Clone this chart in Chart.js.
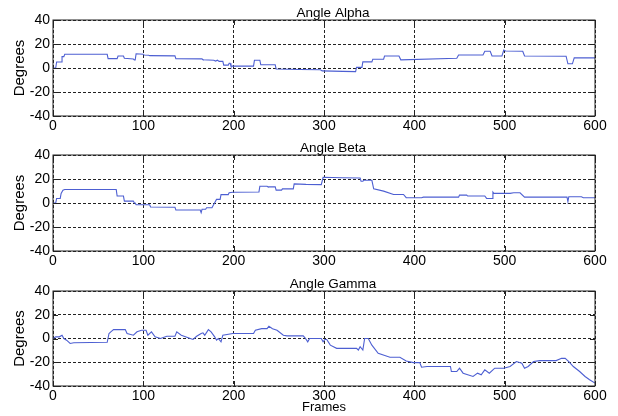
<!DOCTYPE html>
<html>
<head>
<meta charset="utf-8">
<script src="https://cdn.jsdelivr.net/npm/chart.js@4.4.1/dist/chart.umd.min.js"></script>
<style>
  body { margin: 0; background: #fff; }
  #wrap { position: relative; width: 618px; height: 416px; overflow: hidden; background: #fff; }
  canvas { position: absolute; left: 0; }
</style>
</head>
<body>
<div id="wrap">
  <canvas id="alpha" width="618" height="136" style="top:0px"></canvas>
  <canvas id="beta" width="618" height="136" style="top:135px"></canvas>
  <canvas id="gamma" width="618" height="145" style="top:271px"></canvas>
</div>
<script>
// data (frame, degrees)
const alphaFrames = [0, 3, 4, 10, 10, 12, 13, 60, 61, 71, 72, 78, 79, 89, 90, 91, 92, 100, 101, 106, 107, 135, 136, 165, 166, 178, 180, 182, 184, 188, 189, 194, 195, 196, 197, 222, 223, 229, 230, 246, 247, 260, 273, 296, 298, 321, 335, 336, 342, 343, 353, 354, 366, 367, 383, 385, 447, 449, 476, 478, 484, 486, 497, 499, 501, 520, 522, 568, 570, 575, 577, 600];
const alphaDeg = [0, 0, 5, 5, 9.5, 9.5, 11.4, 11.4, 7.8, 7.8, 10, 10, 8.1, 7.5, 6.8, 6.8, 11.9, 11.5, 10.8, 10.6, 10.3, 10.1, 7.8, 7.6, 6.8, 6.5, 5.8, 6.5, 5.5, 5.5, 2.4, 2.4, 4, 4, 1.6, 1.6, 6.5, 6.5, 2.7, 2.7, -0.8, -1.1, -1.2, -1.4, -2.4, -2.8, -3, 0.5, 0.5, 5.1, 5.1, 7.3, 7.3, 10, 10, 6.8, 8.1, 10.8, 10.8, 14, 14, 10, 10, 14.9, 14.2, 14, 10, 9.8, 3.5, 3.5, 8.4, 8.4];

const betaFrames = [0, 3, 4, 8, 9, 11, 13, 70, 71, 78, 79, 89, 90, 91, 92, 107, 108, 135, 136, 163, 164, 165, 169, 170, 176, 177, 179, 181, 185, 186, 194, 195, 199, 228, 229, 237, 238, 246, 247, 253, 254, 266, 267, 280, 297, 299, 320, 340, 341, 343, 344, 353, 355, 366, 377, 388, 391, 408, 410, 449, 450, 458, 459, 478, 480, 486, 487, 488, 506, 510, 517, 522, 569, 570, 571, 585, 587, 600];
const betaDeg = [0, 0, 3.8, 3.8, 8, 10.7, 11.2, 11.2, 5.8, 5.8, 1.6, 1.6, 0, 0, -1.5, -1.5, -3.3, -3.5, -5.8, -5.8, -8, -5.2, -5.2, -4, -4, -2.5, 0.3, 3, 3, 7, 7, 8.5, 9, 9.2, 14, 14, 13.4, 13.4, 10.7, 10.7, 11.8, 11.8, 15.9, 15.5, 15.3, 21.4, 21, 20.8, 18.1, 18.1, 18.9, 18.9, 11.8, 9.9, 7.1, 7.1, 4.4, 4.4, 4.9, 4.9, 6.6, 6.6, 5.8, 5.8, 3.8, 3.8, 9, 8, 8, 8.5, 8.5, 4.9, 4.9, 1.1, 5.2, 5.2, 4.4, 4.4];

const gammaFrames = [0, 3, 7, 10, 12, 15, 19, 23, 60, 62, 64, 67, 80, 82, 89, 93, 98, 103, 105, 109, 113, 119, 126, 135, 137, 142, 152, 155, 159, 164, 166, 168, 172, 175, 179, 181, 183, 186, 188, 199, 222, 224, 231, 237, 239, 243, 248, 255, 259, 277, 279, 282, 284, 297, 299, 301, 303, 307, 314, 336, 338, 340, 343, 345, 349, 353, 360, 373, 384, 391, 399, 406, 408, 414, 440, 441, 447, 450, 454, 465, 470, 474, 478, 483, 487, 489, 499, 506, 513, 519, 522, 526, 532, 539, 557, 563, 567, 571, 576, 583, 589, 594, 600];
const gammaDeg = [0, 1.4, 1.4, 2.8, 0, -1.4, -4.2, -3.6, -3.2, 4.2, 5.6, 7.5, 7.5, 4.2, 2.8, 5.6, 6.9, 6.9, 2.8, 5.6, 1.4, 0, 1.9, 1.9, 5.6, 2.8, 0, -0.8, 1.9, 4.2, 4.8, 2.8, 7.5, 5.6, 1.4, -1.4, 0, -2.8, 2.8, 4.2, 4.2, 6.9, 8.3, 8.3, 10.3, 8.3, 6.9, 2.8, 2.2, 2.2, 0.6, -2.8, 0, 0, -2.8, -0.8, -0.8, -5.6, -8.3, -8.3, -9.7, -6.9, -9.7, 0, 0, -5.6, -12.5, -15.8, -15.8, -18.9, -20.3, -20.3, -24.2, -23.6, -23.6, -27.8, -27.8, -25, -29.2, -32, -29.2, -30.5, -26.4, -29.2, -26.4, -25, -25, -23.6, -19.4, -20.8, -25, -23.6, -19.4, -18.6, -18.6, -16.7, -16.7, -19.4, -23.6, -27.8, -32, -34.7, -37.5];

const xTicks = [0, 100, 200, 300, 400, 500, 600];
const yTicks = [-40, -20, 0, 20, 40];

const FONT = '"Liberation Sans", Arial, sans-serif';
Chart.defaults.font.family = FONT;
Chart.defaults.font.size = 14;
Chart.defaults.color = '#000';

// matlab-like box, inward ticks and title
const axesBox = {
    id: 'axesBox',
    afterDraw(chart, args, opts) {
        const ctx = chart.ctx;
        const a = chart.chartArea;
        const xs = chart.scales.x, ys = chart.scales.y;
        ctx.save();
        ctx.strokeStyle = '#222';
        ctx.lineWidth = 1;
        ctx.strokeRect(a.left, a.top, a.right - a.left, a.bottom - a.top);
        ctx.beginPath();
        xTicks.forEach(v => {
            const px = Math.round(xs.getPixelForValue(v)) + 0.5;
            ctx.moveTo(px, a.bottom); ctx.lineTo(px, a.bottom - 5);
            ctx.moveTo(px, a.top); ctx.lineTo(px, a.top + 5);
        });
        yTicks.forEach(v => {
            const py = Math.round(ys.getPixelForValue(v)) + 0.5;
            ctx.moveTo(a.left, py); ctx.lineTo(a.left + 5, py);
            ctx.moveTo(a.right, py); ctx.lineTo(a.right - 5, py);
        });
        ctx.stroke();
        ctx.fillStyle = '#000';
        ctx.font = '13.5px ' + FONT;
        ctx.textAlign = 'center';
        ctx.textBaseline = 'alphabetic';
        ctx.fillText(opts.text, (a.left + a.right) / 2 + 9, a.top - 3.5);
        ctx.restore();
    }
};

function makeChart(id, frames, deg, title, last) {
    const pts = frames.map((f, i) => ({x: f, y: deg[i]}));
    return new Chart(document.getElementById(id), {
        type: 'line',
        data: {
            datasets: [{
                data: pts,
                borderColor: '#4d5fd2',
                borderWidth: 1.1,
                pointRadius: 0,
                tension: 0
            }]
        },
        options: {
            responsive: false,
            animation: false,
            layout: {padding: {top: 20, right: 23, left: 0, bottom: 0}},
            plugins: {
                legend: {display: false},
                tooltip: {enabled: false},
                axesBox: {text: title}
            },
            scales: {
                x: {
                    type: 'linear',
                    min: 0, max: 600,
                    afterBuildTicks: s => { s.ticks = xTicks.map(v => ({value: v})); },
                    afterFit: s => { s.height = last ? 30 : 20; },
                    ticks: {padding: 2, maxRotation: 0, autoSkip: false},
                    grid: {color: '#222', drawTicks: false},
                    border: {display: false, dash: [3, 2]},
                    title: {display: last, text: 'Frames', font: {size: 13}, padding: {top: 0, bottom: 1}}
                },
                y: {
                    min: -40, max: 40,
                    afterBuildTicks: s => { s.ticks = yTicks.map(v => ({value: v})); },
                    afterFit: s => { s.width = 53; },
                    ticks: {padding: 3},
                    grid: {color: '#222', drawTicks: false},
                    border: {display: false, dash: [3, 2]},
                    title: {display: true, text: 'Degrees', font: {size: 15}, padding: {top: 11, bottom: 0}}
                }
            }
        },
        plugins: [axesBox]
    });
}

makeChart('alpha', alphaFrames, alphaDeg, 'Angle Alpha', false);
makeChart('beta', betaFrames, betaDeg, 'Angle Beta', false);
makeChart('gamma', gammaFrames, gammaDeg, 'Angle Gamma', true);
</script>
</body>
</html>
